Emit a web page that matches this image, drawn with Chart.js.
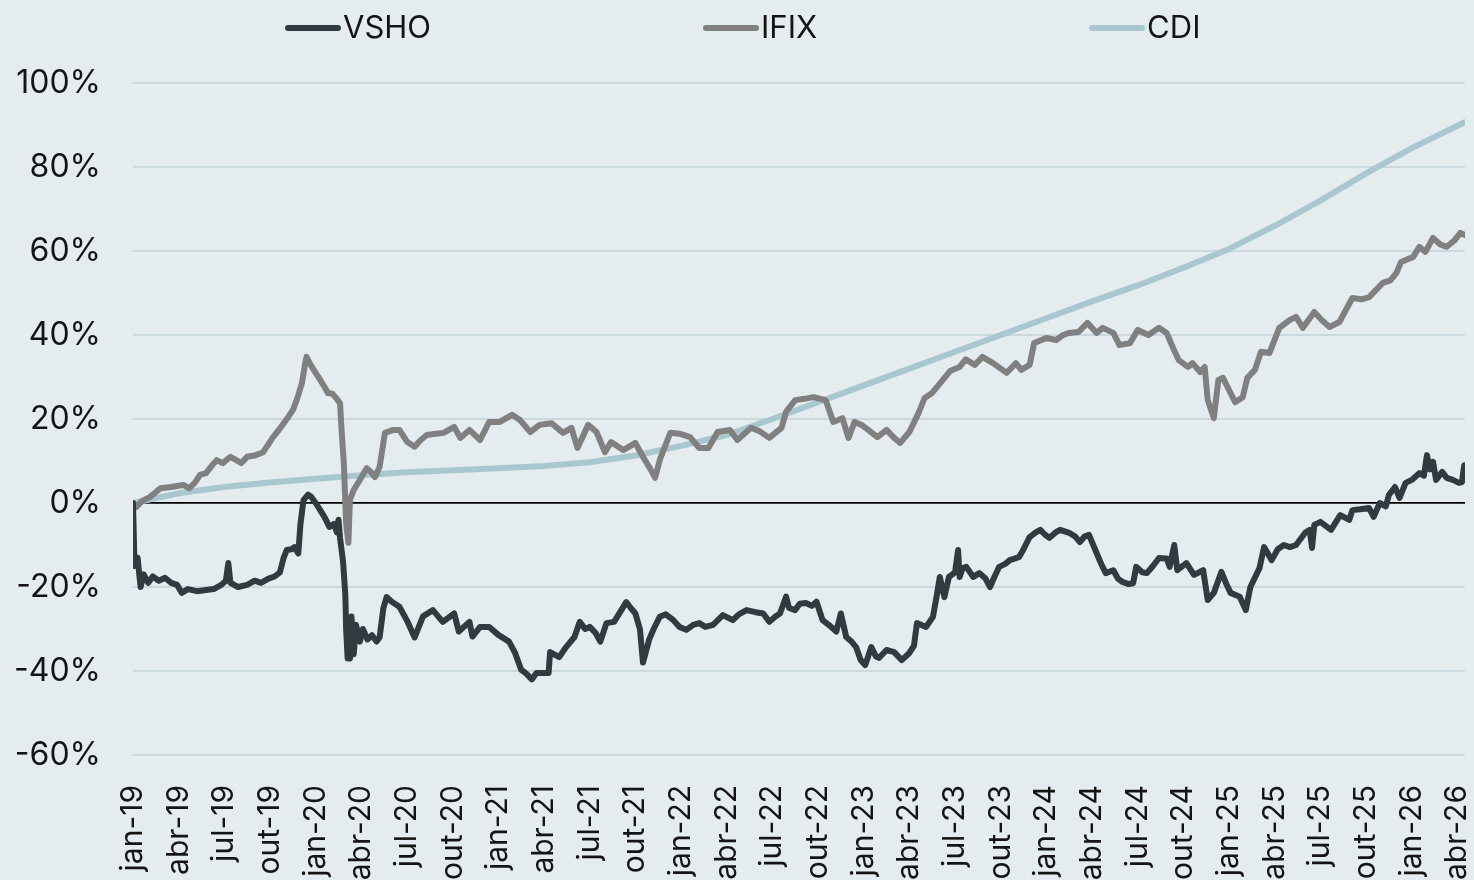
<!DOCTYPE html>
<html>
<head>
<meta charset="utf-8">
<script src="https://cdn.jsdelivr.net/npm/chart.js@4.4.0/dist/chart.umd.min.js"></script>
<style>
  html, body { margin: 0; padding: 0; background: #e4ecef; }
  #wrap { width: 1474px; height: 880px; position: relative; }
</style>
</head>
<body>
<div id="wrap"><canvas id="chart"></canvas></div>
<script>
// quarterly tick labels, one every 3 months starting jan-19
const tickLabels = [
  'jan-19', 'abr-19', 'jul-19', 'out-19',
  'jan-20', 'abr-20', 'jul-20', 'out-20',
  'jan-21', 'abr-21', 'jul-21', 'out-21',
  'jan-22', 'abr-22', 'jul-22', 'out-22',
  'jan-23', 'abr-23', 'jul-23', 'out-23',
  'jan-24', 'abr-24', 'jul-24', 'out-24',
  'jan-25', 'abr-25', 'jul-25', 'out-25',
  'jan-26', 'abr-26'
];

// [months since jan-19, cumulative return %]
const vsho = [
  [0, 0], [0.1, -15], [0.3, -13], [0.5, -20], [0.7, -17], [1.0, -19], [1.3, -17.5], [1.7, -18.5],
  [2.1, -17.8], [2.5, -19], [2.9, -19.5], [3.2, -21.4], [3.6, -20.5], [4.2, -21], [4.8, -20.7],
  [5.3, -20.5], [5.8, -19.5], [6.1, -18.5], [6.26, -14.3], [6.4, -19], [6.9, -20], [7.5, -19.5],
  [8.0, -18.5], [8.4, -19], [8.9, -18], [9.3, -17.5], [9.65, -16.5], [9.9, -13], [10.1, -11.2],
  [10.4, -11], [10.6, -10.5], [10.86, -12], [11.0, -5], [11.2, 0.7], [11.5, 2], [11.7, 1.5],
  [12.0, 0], [12.3, -1.7], [12.6, -3.5], [12.9, -5.7], [13.2, -5], [13.4, -7], [13.5, -4],
  [13.6, -8.3], [13.8, -14], [13.95, -22], [14.0, -30], [14.1, -37], [14.25, -37], [14.35, -27],
  [14.5, -36], [14.65, -29], [14.9, -33], [15.1, -30], [15.4, -32.5], [15.7, -31.5], [16.0, -33],
  [16.2, -32], [16.45, -25], [16.66, -22.4], [17.0, -23.5], [17.5, -24.7], [18.0, -28], [18.5, -32],
  [19.05, -27], [19.7, -25.5], [20.35, -28.3], [21.1, -26.3], [21.4, -30.6], [22.1, -28.3],
  [22.3, -31.8], [22.8, -29.5], [23.4, -29.5], [24.0, -31.4], [24.7, -33], [25.1, -35.7],
  [25.5, -39.7], [25.8, -40.5], [26.2, -42], [26.5, -40.5], [26.85, -40.5], [27.3, -40.5],
  [27.4, -35.5], [28.0, -36.7], [28.45, -34.3], [29.0, -31.9], [29.35, -28.3], [29.7, -30],
  [30.0, -29.5], [30.4, -31], [30.7, -33], [31.1, -28.6], [31.6, -28.3], [32.0, -26], [32.4, -23.6],
  [32.7, -25], [33.0, -26.3], [33.3, -30], [33.5, -38], [33.9, -32.6], [34.2, -30], [34.6, -27.1],
  [35.0, -26.5], [35.5, -27.9], [35.9, -29.5], [36.35, -30.2], [36.8, -29], [37.2, -28.6],
  [37.6, -29.5], [38.1, -29], [38.75, -26.7], [39.4, -27.9], [39.8, -26.5], [40.3, -25.5],
  [40.9, -26], [41.4, -26.3], [41.8, -28.3], [42.2, -27], [42.5, -26.3], [42.9, -22.3], [43.1, -25],
  [43.5, -25.5], [43.8, -24], [44.2, -23.8], [44.6, -24.5], [44.9, -23.5], [45.3, -27.9],
  [45.7, -29], [46.2, -30.6], [46.5, -26.3], [46.85, -31.9], [47.2, -33], [47.5, -34.3],
  [47.8, -37.4], [48.1, -38.6], [48.5, -34.3], [48.8, -36.5], [49.0, -36.9], [49.5, -35],
  [50.0, -35.5], [50.5, -37.4], [51.0, -35.7], [51.3, -34], [51.5, -28.6], [52.1, -29.5],
  [52.55, -27.1], [52.8, -22], [53.0, -17.6], [53.3, -22.4], [53.6, -17.6], [54.0, -16.5],
  [54.2, -11.2], [54.3, -17.6], [54.5, -15.5], [54.74, -15.2], [55.2, -17.6], [55.6, -16.7],
  [56.0, -18], [56.3, -20], [56.6, -17.5], [56.9, -15.2], [57.3, -14.5], [57.6, -13.6],
  [58.2, -12.9], [58.5, -11], [58.9, -8.1], [59.3, -7], [59.6, -6.4], [59.9, -7.5], [60.2, -8.3],
  [60.6, -7], [60.9, -6.4], [61.5, -7.1], [61.9, -8], [62.2, -9.3], [62.5, -8], [62.8, -7.6],
  [63.3, -11.9], [63.6, -14.5], [63.9, -16.7], [64.4, -16], [64.7, -18], [65.0, -18.8],
  [65.4, -19.3], [65.7, -19.1], [65.9, -15.2], [66.3, -16.5], [66.6, -16.7], [67.0, -15],
  [67.4, -13.1], [67.9, -13.2], [68.1, -15.2], [68.4, -10], [68.6, -16], [69.2, -14.3],
  [69.7, -17.1], [70.3, -16], [70.6, -23.1], [71.0, -21.4], [71.5, -16.4], [71.8, -19.1],
  [72.1, -21.4], [72.7, -22.3], [73.1, -25.5], [73.4, -20], [74.0, -15.5], [74.3, -10.5],
  [74.8, -13.6], [75.2, -11], [75.6, -10], [76.0, -10.5], [76.4, -10], [77.0, -7.1], [77.3, -6.4],
  [77.45, -10.7], [77.6, -5.2], [78.0, -4.5], [78.7, -6.4], [79.3, -2.9], [79.9, -4], [80.1, -1.7],
  [80.6, -1.5], [81.2, -1.2], [81.5, -3.3], [81.9, 0], [82.3, -0.8], [82.5, 1.9], [82.9, 3.8],
  [83.2, 1.2], [83.6, 4.8], [84.0, 5.5], [84.5, 7.1], [84.8, 6.5], [85.0, 11.4], [85.2, 8],
  [85.4, 9.8], [85.6, 5.5], [86.0, 7.4], [86.3, 6], [86.7, 5.5], [87.1, 4.8], [87.3, 5],
  [87.45, 9], [87.5, 8]
];

const ifix = [
  [0, 0], [0.24, -0.9], [0.6, 0.5], [1.1, 1.4], [1.8, 3.5], [2.5, 3.8], [3.3, 4.3], [3.7, 3.5],
  [4.1, 5], [4.4, 6.7], [4.8, 7.1], [5.2, 9], [5.5, 10.2], [5.9, 9.5], [6.4, 11], [6.8, 10.2],
  [7.1, 9.5], [7.5, 11], [8.0, 11.3], [8.55, 12.1], [8.9, 14], [9.2, 15.7], [9.6, 17.5], [9.9, 19],
  [10.2, 20.5], [10.5, 22.1], [10.8, 25], [11.1, 28.6], [11.3, 33], [11.4, 34.8], [11.6, 33.3],
  [12.0, 31], [12.3, 29.3], [12.6, 27.5], [12.8, 26.2], [13.1, 26], [13.3, 25.2], [13.6, 23.8],
  [13.7, 17.4], [13.85, 9.5], [14.0, -4.8], [14.15, -9.5], [14.25, 0.7], [14.5, 3.1], [14.9, 5.5],
  [15.35, 8.3], [15.6, 7.5], [15.9, 6.2], [16.2, 8.6], [16.55, 16.7], [17.1, 17.4], [17.5, 17.4],
  [18.0, 14.6], [18.5, 13.4], [18.9, 15], [19.3, 16.2], [19.9, 16.5], [20.4, 16.7], [21.1, 18.1],
  [21.5, 15.5], [22.1, 17.4], [22.8, 15], [23.4, 19.3], [24.1, 19.3], [24.9, 21], [25.4, 19.8],
  [26.1, 16.9], [26.7, 18.6], [27.5, 19], [28.25, 16.7], [28.8, 17.9], [29.2, 13.1], [29.9, 18.6],
  [30.45, 16.9], [31.0, 12.1], [31.4, 14.5], [32.2, 12.6], [33.0, 14.3], [33.5, 11], [34.0, 8],
  [34.3, 6], [34.6, 10.2], [35.0, 14], [35.3, 16.7], [35.9, 16.5], [36.6, 15.7], [37.2, 13.1],
  [37.8, 13.1], [38.4, 16.9], [39.2, 17.4], [39.7, 15], [40.6, 17.9], [41.2, 17], [41.8, 15.5],
  [42.6, 17.9], [42.9, 21.7], [43.5, 24.5], [44.1, 24.8], [44.7, 25.2], [45.5, 24.5], [46.0, 19.3],
  [46.6, 20.2], [47.0, 15.5], [47.4, 19.3], [47.9, 18.5], [48.3, 17.4], [48.9, 15.7], [49.5, 17.4],
  [50.0, 15.5], [50.4, 14.3], [51.0, 16.9], [51.6, 21.4], [52.0, 25], [52.5, 26.2], [53.2, 29.3],
  [53.7, 31.5], [54.3, 32.4], [54.7, 34.2], [55.3, 32.9], [55.8, 34.8], [56.5, 33.3], [57.0, 32],
  [57.4, 31], [58.0, 33.3], [58.35, 31.7], [58.9, 32.9], [59.2, 38.1], [60.0, 39.3], [60.65, 38.8],
  [61.1, 40], [61.5, 40.5], [62.1, 40.7], [62.7, 42.9], [63.3, 40.5], [63.7, 41.7], [64.4, 40.5],
  [64.8, 37.6], [65.5, 38.1], [66.0, 41.2], [66.7, 40], [67.4, 41.7], [67.9, 40.5], [68.3, 37.1],
  [68.7, 34], [69.3, 32.4], [69.6, 33.3], [70.1, 31.2], [70.4, 32.4], [70.6, 24.5], [71.0, 20.2],
  [71.3, 29.3], [71.6, 29.8], [72.0, 26.9], [72.4, 24], [72.9, 25.2], [73.2, 29.8], [73.7, 31.7],
  [74.1, 36], [74.65, 35.7], [75.3, 41.7], [76.0, 43.6], [76.4, 44.3], [76.85, 41.7], [77.6, 45.5],
  [78.1, 43.5], [78.6, 41.9], [79.25, 43.1], [80.1, 48.8], [80.7, 48.5], [81.2, 49], [82.1, 52.4],
  [82.6, 53], [83.0, 54.8], [83.3, 57.4], [84.1, 58.6], [84.5, 61], [84.9, 59.8], [85.4, 63.1],
  [85.9, 61.5], [86.3, 61], [86.8, 62.5], [87.2, 64.3], [87.5, 63.8]
];

const cdi = [
  [0, 0], [3, 2.3], [6, 3.8], [9, 4.9], [12, 5.8], [15, 6.6], [18, 7.3], [21, 7.8], [24, 8.3],
  [27, 8.8], [30, 9.7], [33, 11.3], [36, 13.6], [39, 16.2], [42, 20.0], [45, 24.0], [48, 28.0],
  [51, 32.0], [54, 36.0], [57, 40.0], [60, 44.0], [63, 48.0], [66, 51.8], [69, 56.0], [72, 60.5],
  [75, 66.0], [78, 72.0], [81, 78.5], [84, 84.5], [87.5, 90.7]
];

const seriesNames = ['VSHO', 'IFIX', 'CDI'];
const seriesColors = ['#2f3b3f', '#808080', '#a9c7ce'];

const FONT = { family: 'Inter', size: 30 };
const Y_FONT = { family: 'Inter', size: 32 };
const TEXT_COLOR = '#141414';

// I draw the legend myself so the items can sit far apart on one row
const topLegend = {
  id: 'topLegend',
  afterDraw(chart) {
    const ctx = chart.ctx;
    ctx.save();
    ctx.font = '31px ' + FONT.family;
    ctx.textBaseline = 'middle';
    let x = 285;
    const y = 28;
    chart.data.datasets.forEach(ds => {
      ctx.strokeStyle = ds.borderColor;
      ctx.lineWidth = 6;
      ctx.lineCap = 'round';
      ctx.beginPath();
      ctx.moveTo(x + 3, y);
      ctx.lineTo(x + 53, y);
      ctx.stroke();
      ctx.fillStyle = TEXT_COLOR;
      ctx.fillText(ds.label, x + 58, y + 1);
      x += 58 + ctx.measureText(ds.label).width + 272;
    });
    ctx.restore();
  }
};

const toPoints = arr => arr.map(([x, y]) => ({ x, y }));
const allSeries = [vsho, ifix, cdi];

new Chart(document.getElementById('chart'), {
  type: 'line',
  data: {
    datasets: allSeries.map((s, i) => ({
      label: seriesNames[i],
      data: toPoints(s),
      borderColor: seriesColors[i],
      backgroundColor: seriesColors[i],
      borderWidth: 6,
      pointRadius: 0,
      tension: 0,
      fill: false,
      borderJoinStyle: 'round',
      borderCapStyle: 'round'
    }))
  },
  options: {
    responsive: true,
    maintainAspectRatio: false,
    animation: false,
    layout: { padding: { top: 83, right: 9, left: 0, bottom: 0 } },
    plugins: {
      legend: { display: false },
      tooltip: { enabled: false }
    },
    scales: {
      x: {
        type: 'linear',
        min: 0,
        max: 87.5,
        border: { display: false },
        grid: { display: false },
        afterBuildTicks: scale => {
          scale.ticks = tickLabels.map((_, i) => ({ value: i * 3 }));
        },
        ticks: {
          autoSkip: false,
          maxRotation: 90,
          minRotation: 90,
          padding: 22,
          font: FONT,
          color: TEXT_COLOR,
          callback: v => tickLabels[Math.round(v / 3)] || ''
        },
        afterFit: scale => {
          scale.height = 125;
          scale.paddingLeft = 0;
          scale.paddingRight = 0;
        }
      },
      y: {
        min: -60,
        max: 100,
        border: { display: false },
        grid: {
          drawTicks: false,
          lineWidth: ctx => (ctx.tick && ctx.tick.value === 0 ? 1.8 : 2),
          color: ctx => (ctx.tick && ctx.tick.value === 0 ? '#000000' : '#cbd8e0')
        },
        ticks: {
          stepSize: 20,
          padding: 32,
          font: Y_FONT,
          color: TEXT_COLOR,
          callback: v => v + '%'
        },
        afterFit: scale => { scale.width = 133; }
      }
    }
  },
  plugins: [topLegend]
});
</script>
</body>
</html>
